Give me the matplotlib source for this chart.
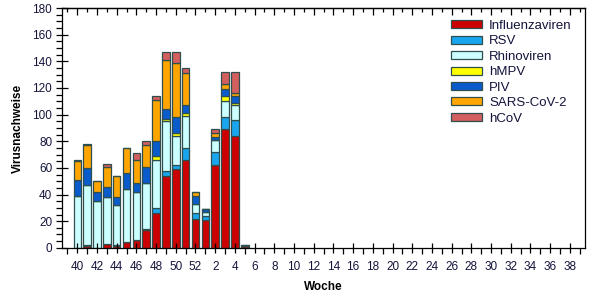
import matplotlib.pyplot as plt
import numpy as np
from matplotlib.ticker import MultipleLocator

# Kalenderwochen der Saison (Woche 40 bis Woche 39)
season_weeks = list(range(40, 53)) + list(range(1, 40))

weeks = [40, 41, 42, 43, 44, 45, 46, 47, 48, 49, 50, 51, 52, 1, 2, 3, 4, 5]
influenza = [0, 1, 0, 3, 1, 4, 6, 13, 26, 54, 59, 66, 22, 21, 62, 89, 84, 1]
rsv = [0, 1, 0, 0, 1, 0, 0, 1, 4, 4, 3, 9, 4, 3, 10, 9, 12, 0]
rhino = [39, 45, 35, 35, 30, 40, 36, 35, 36, 37, 22, 24, 7, 3, 9, 12, 11, 0]
hmpv = [0, 0, 0, 0, 0, 0, 0, 0, 3, 2, 2, 2, 0, 0, 0, 4, 2, 0]
piv = [12, 13, 7, 8, 6, 12, 7, 12, 11, 7, 12, 6, 6, 2, 2, 5, 5, 0]
sars = [14, 17, 8, 15, 16, 19, 17, 16, 31, 37, 41, 24, 3, 0, 3, 4, 2, 1]
hcov = [1, 1, 0, 2, 0, 0, 5, 3, 3, 6, 8, 4, 0, 0, 3, 9, 16, 0]

series = [
    ("Influenzaviren", influenza, "#cc0000"),
    ("RSV", rsv, "#1aa6ee"),
    ("Rhinoviren", rhino, "#ccffff"),
    ("hMPV", hmpv, "#ffff00"),
    ("PIV", piv, "#0a5ccc"),
    ("SARS-CoV-2", sars, "#ffa500"),
    ("hCoV", hcov, "#d35f5f"),
]

plt.rcParams["font.family"] = ["Liberation Sans", "DejaVu Sans"]
label_color = "#14143c"

fig = plt.figure(figsize=(6.02, 3.0), dpi=100)
ax = fig.add_axes([0.103, 0.174, 0.869, 0.799])

x = np.array([season_weeks.index(w) for w in weeks], dtype=float)
bottom = np.zeros(len(weeks))
for name, values, color in series:
    values = np.array(values, dtype=float)
    ax.bar(x, values, 0.76, bottom=bottom, color=color, edgecolor="#2f4f4f",
           linewidth=0.9, label=name)
    bottom += values

ax.set_xlim(-1.55, 51.55)
ax.set_ylim(0, 180)

major = np.arange(0, len(season_weeks), 2)
ax.set_xticks(major, [str(season_weeks[i]) for i in major])
ax.xaxis.set_minor_locator(MultipleLocator(1))
ax.yaxis.set_major_locator(MultipleLocator(20))
ax.yaxis.set_minor_locator(MultipleLocator(5))

ax.tick_params(axis="x", which="major", direction="inout", length=7, width=0.9,
               pad=6, labelsize=8.5, labelcolor=label_color)
ax.tick_params(axis="x", which="minor", direction="out", length=4, width=0.9)
ax.tick_params(axis="y", which="major", direction="inout", length=8, width=0.9,
               pad=3, labelsize=8.5, labelcolor=label_color)
ax.tick_params(axis="y", which="minor", direction="out", length=4, width=0.9)

top = ax.secondary_xaxis("top")
top.set_xticks(major)
top.xaxis.set_minor_locator(MultipleLocator(1))
top.tick_params(which="major", direction="in", length=5, width=0.9, labeltop=False)
top.tick_params(which="minor", direction="in", length=3, width=0.9)
top.spines["top"].set_linewidth(0.9)

for spine in ax.spines.values():
    spine.set_linewidth(0.9)

ax.set_xlabel("Woche", fontsize=8.5, fontweight="bold", labelpad=6)
ax.set_ylabel("Virusnachweise", fontsize=8.5, fontweight="bold", labelpad=6)

leg = ax.legend(loc="upper right", bbox_to_anchor=(0.997, 1.0), frameon=False,
                fontsize=9.5, handlelength=2.35, handleheight=0.55, labelspacing=0.26,
                handletextpad=0.55)
for text in leg.get_texts():
    text.set_color(label_color)

fig.savefig("out.png", dpi=100)
